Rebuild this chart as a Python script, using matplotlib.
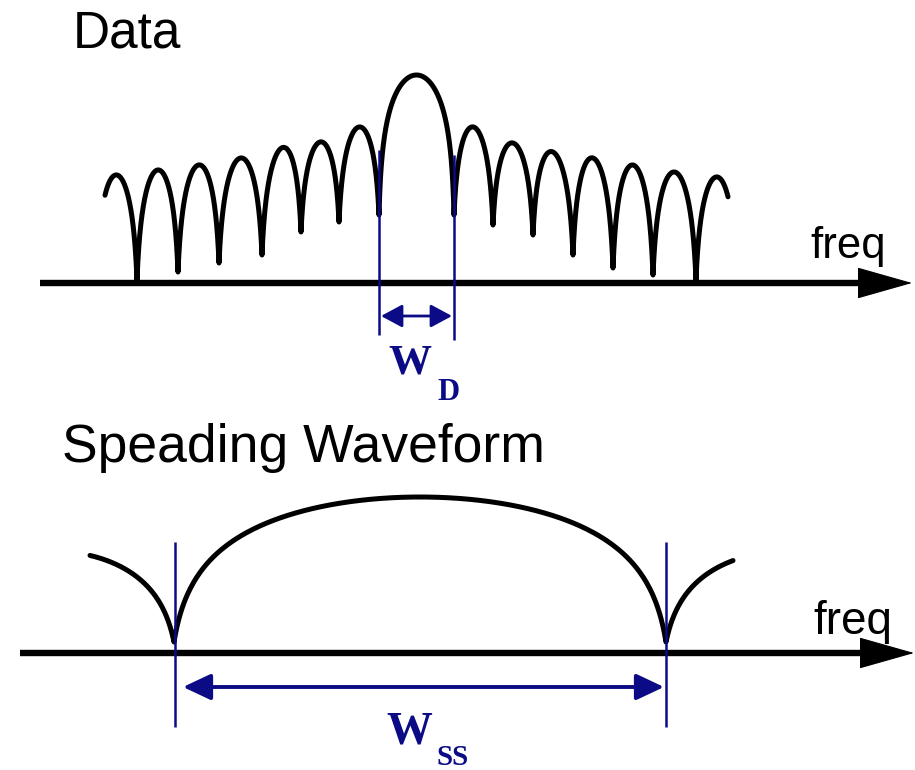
"""
plot.py
=======
Spectrum sketch: data spectrum (narrow sinc lobes) vs spreading waveform (wide lobe).
"""
import numpy as np
import matplotlib
matplotlib.use('Agg')
import matplotlib.pyplot as plt

BLUE = '#0b0b86'

# -- Data spectrum: null positions / null heights / lobe peak heights (pixel space)
data_null_x = [97, 137, 178, 219, 262, 301, 339, 379, 454, 493, 533, 573, 613, 653, 696, 736]
data_null_y = [272, 280, 272, 263, 255, 232, 222, 215, 215, 225, 235, 255, 268, 275, 280, 272]
data_peak_y = [175, 170, 165, 158, 148, 142, 127, 75, 127, 143, 152, 158, 165, 172, 177]
data_span = (105, 728)
data_main = 7            # index of main lobe
data_edges = (379, 454)  # W_D markers

# -- Spreading waveform
ss_null_x = [-72, 174, 666, 912]
ss_null_y = [642, 642, 642, 642]
ss_peak_y = [551, 497, 551]
ss_span = (90, 733)
ss_main = 1
ss_edges = (175, 666)    # W_SS markers


def lobe(x0, x1, y0, y1, peak, k, xs):
    # one lobe, log-like arch with a sharp cusp at each null
    t = (xs - x0) / (x1 - x0)
    s = np.clip(np.sin(np.pi * t), 0, 1)
    shape = np.log1p(k * s) / np.log1p(k)
    base = y0 + (y1 - y0) * t
    amp = (y0 + y1) / 2 - peak
    return base - amp * shape


def spectrum(null_x, null_y, peak_y, span, main, side_k, main_k):
    xs_all, ys_all = [], []
    for i in range(len(peak_y)):
        x0, x1 = null_x[i], null_x[i + 1]
        a, b = max(x0, span[0]), min(x1, span[1])
        xs = np.linspace(a, b, 300)
        k = main_k if i == main else side_k
        xs_all.append(xs)
        ys_all.append(lobe(x0, x1, null_y[i], null_y[i + 1], peak_y[i], k, xs))
    return np.concatenate(xs_all), np.concatenate(ys_all)


def freq_axis(ax, x0, x1, y):
    head = 53
    ax.plot([x0, x1 - head + 4], [y, y], color='k', lw=4.6, solid_capstyle='butt', zorder=2)
    ax.annotate('', xy=(x1, y), xytext=(x1 - head, y),
                arrowprops=dict(arrowstyle='-|>,head_length=37,head_width=10.5',
                                lw=0.8, fc='k', ec='k', mutation_scale=1,
                                shrinkA=0, shrinkB=0), zorder=3)


def width_arrow(ax, xa, xb, y, hl, hw, lw):
    ax.annotate('', xy=(xb, y), xytext=(xa, y),
                arrowprops=dict(arrowstyle=f'<|-|>,head_length={hl},head_width={hw}',
                                lw=lw, fc=BLUE, ec=BLUE, mutation_scale=1,
                                shrinkA=0, shrinkB=0), zorder=5)


fig = plt.figure(figsize=(9.15, 7.70), dpi=100)
ax = fig.add_axes([0, 0, 1, 1])
ax.set_xlim(0, 915)
ax.set_ylim(770, 0)
ax.axis('off')

# ---- top: data
x, y = spectrum(data_null_x, data_null_y, data_peak_y, data_span, data_main, 6, 20)
ax.plot(x, y, color='k', lw=3.6, solid_joinstyle='round', solid_capstyle='round', zorder=3)
freq_axis(ax, 40, 912, 283)
ax.vlines(data_edges[0], 150, 335, color=BLUE, lw=1.8, zorder=4)
ax.vlines(data_edges[1], 155, 340, color=BLUE, lw=1.8, zorder=4)
width_arrow(ax, data_edges[0] + 2, data_edges[1] - 2, 316, 13, 7, 2.0)

ax.text(73, 48, 'Data', fontsize=37, family='Liberation Sans', va='baseline', ha='left')
ax.text(810, 258, 'freq', fontsize=31.5, family='Liberation Sans', va='baseline', ha='left')
ax.text(388, 373, 'W', fontsize=31, family='Liberation Serif', weight='bold',
        color=BLUE, va='baseline', ha='left')
ax.text(437, 400, 'D', fontsize=22, family='Liberation Serif', weight='bold',
        color=BLUE, va='baseline', ha='left')

# ---- bottom: spreading waveform
x, y = spectrum(ss_null_x, ss_null_y, ss_peak_y, ss_span, ss_main, 10, 20)
ax.plot(x, y, color='k', lw=3.6, solid_joinstyle='round', solid_capstyle='round', zorder=3)
freq_axis(ax, 20, 914, 653)
ax.vlines(ss_edges[0], 542, 727, color=BLUE, lw=1.8, zorder=4)
ax.vlines(ss_edges[1], 542, 727, color=BLUE, lw=1.8, zorder=4)
width_arrow(ax, ss_edges[0] + 8, ss_edges[1] - 2, 687, 17, 8, 2.8)

ax.text(62, 462, 'Speading Waveform', fontsize=38.5, family='Liberation Sans',
        va='baseline', ha='left')
ax.text(813, 634, 'freq', fontsize=33, family='Liberation Sans', va='baseline', ha='left')
ax.text(386, 743, 'W', fontsize=33, family='Liberation Serif', weight='bold',
        color=BLUE, va='baseline', ha='left')
ax.text(436, 765, 'SS', fontsize=21, family='Liberation Serif', weight='bold',
        color=BLUE, va='baseline', ha='left')

plt.savefig('out.png', dpi=100)
plt.close()
